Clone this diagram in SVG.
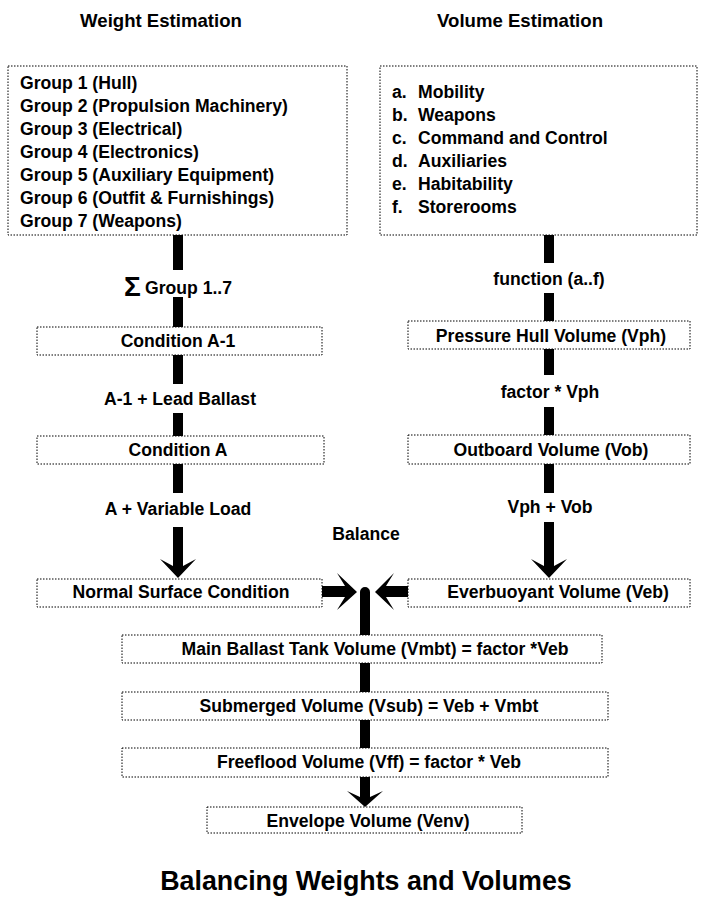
<svg xmlns="http://www.w3.org/2000/svg" width="707" height="899" viewBox="0 0 707 899">
<style>
text{font-family:"Liberation Sans",Arial,Helvetica,sans-serif;font-weight:bold;font-size:17.6px;fill:#000}
.c{text-anchor:middle}
.h{font-size:18.6px}
.box{fill:#fff;stroke:#000;stroke-width:1;stroke-dasharray:1.5 1.5}
.bar{fill:#000}
.title{font-size:26.8px}
</style>
<rect width="707" height="899" fill="#fff"/>
<g id="connectors">
<rect class="bar" x="173" y="235" width="10" height="35"/>
<rect class="bar" x="173" y="297" width="10" height="30"/>
<rect class="bar" x="173" y="355" width="10" height="29"/>
<rect class="bar" x="173" y="413" width="10" height="23"/>
<rect class="bar" x="173" y="464" width="10" height="29"/>
<path class="bar" d="M173,527 L183,527 L183,566 L196,559 L178,578 L160,559 L173,566 Z"/>
<rect class="bar" x="544" y="235" width="10" height="28"/>
<rect class="bar" x="544" y="293" width="10" height="28"/>
<rect class="bar" x="544" y="349" width="10" height="26"/>
<rect class="bar" x="544" y="407" width="10" height="28"/>
<rect class="bar" x="544" y="464" width="10" height="29"/>
<path class="bar" d="M544,522 L554,522 L554,566 L567,559 L549,578 L531,559 L544,566 Z"/>
<path class="bar" d="M322,586 L345,586 L337,573 L357,592 L337,610 L345,597 L322,597 Z"/>
<path class="bar" d="M409,586 L386,586 L394,573 L375,592 L394,610 L386,597 L409,597 Z"/>
<path class="bar" d="M360,592 A5,5 0 0 1 370,592 L370,797 L383,791 L365,807 L347,791 L360,797 Z"/>
</g>
<g id="label-weight-est"><text class="c h" x="161" y="27">Weight Estimation</text></g>
<g id="label-volume-est"><text class="c h" x="520" y="27">Volume Estimation</text></g>
<g id="groups">
<rect class="box" x="8" y="66" width="339" height="169"/>
<text x="20" y="89">Group 1 (Hull)</text>
<text x="20" y="112">Group 2 (Propulsion Machinery)</text>
<text x="20" y="135">Group 3 (Electrical)</text>
<text x="20" y="158">Group 4 (Electronics)</text>
<text x="20" y="181">Group 5 (Auxiliary Equipment)</text>
<text x="20" y="204">Group 6 (Outfit &amp; Furnishings)</text>
<text x="20" y="227">Group 7 (Weapons)</text>
</g>
<g id="functions">
<rect class="box" x="380" y="66" width="317" height="169"/>
<text x="392" y="98">a.</text><text x="418" y="98">Mobility</text>
<text x="392" y="121">b.</text><text x="418" y="121">Weapons</text>
<text x="392" y="144">c.</text><text x="418" y="144">Command and Control</text>
<text x="392" y="167">d.</text><text x="418" y="167">Auxiliaries</text>
<text x="392" y="190">e.</text><text x="418" y="190">Habitability</text>
<text x="392" y="213">f.</text><text x="418" y="213">Storerooms</text>
</g>
<g id="label-sum"><text x="124" y="296" style="font-size:28px">Σ</text><text x="145" y="294">Group 1..7</text></g>
<g id="cond-a1"><rect class="box" x="37" y="327" width="285" height="28"/><text class="c" x="178" y="347">Condition A-1</text></g>
<g id="label-lead"><text class="c" x="180" y="405">A-1 + Lead Ballast</text></g>
<g id="cond-a"><rect class="box" x="37" y="436" width="287" height="28"/><text class="c" x="178" y="456">Condition A</text></g>
<g id="label-variable"><text class="c" x="178" y="515">A + Variable Load</text></g>
<g id="normal-surface"><rect class="box" x="37" y="579" width="285" height="28"/><text class="c" x="181" y="598">Normal Surface Condition</text></g>
<g id="label-function"><text class="c" x="549" y="285">function (a..f)</text></g>
<g id="pressure-hull"><rect class="box" x="408" y="321" width="282" height="28"/><text class="c" x="551" y="342">Pressure Hull Volume (Vph)</text></g>
<g id="label-factor"><text class="c" x="550" y="398">factor * Vph</text></g>
<g id="outboard"><rect class="box" x="408" y="435" width="282" height="29"/><text class="c" x="551" y="456">Outboard Volume (Vob)</text></g>
<g id="label-sumvol"><text class="c" x="550" y="513">Vph + Vob</text></g>
<g id="everbuoyant"><rect class="box" x="408" y="579" width="282" height="28"/><text class="c" x="558" y="598">Everbuoyant Volume (Veb)</text></g>
<g id="label-balance"><text class="c" x="366" y="540">Balance</text></g>
<g id="mbt"><rect class="box" x="122" y="635" width="480" height="28"/><text class="c" x="375" y="655">Main Ballast Tank Volume (Vmbt) = factor *Veb</text></g>
<g id="submerged"><rect class="box" x="122" y="692" width="486" height="28"/><text class="c" x="369" y="712">Submerged Volume (Vsub) = Veb + Vmbt</text></g>
<g id="freeflood"><rect class="box" x="122" y="748" width="486" height="29"/><text class="c" x="369" y="768">Freeflood Volume (Vff) = factor * Veb</text></g>
<g id="envelope"><rect class="box" x="207" y="807" width="315" height="26"/><text class="c" x="368" y="827">Envelope Volume (Venv)</text></g>
<g id="title"><text class="c title" x="366" y="890">Balancing Weights and Volumes</text></g>
</svg>
